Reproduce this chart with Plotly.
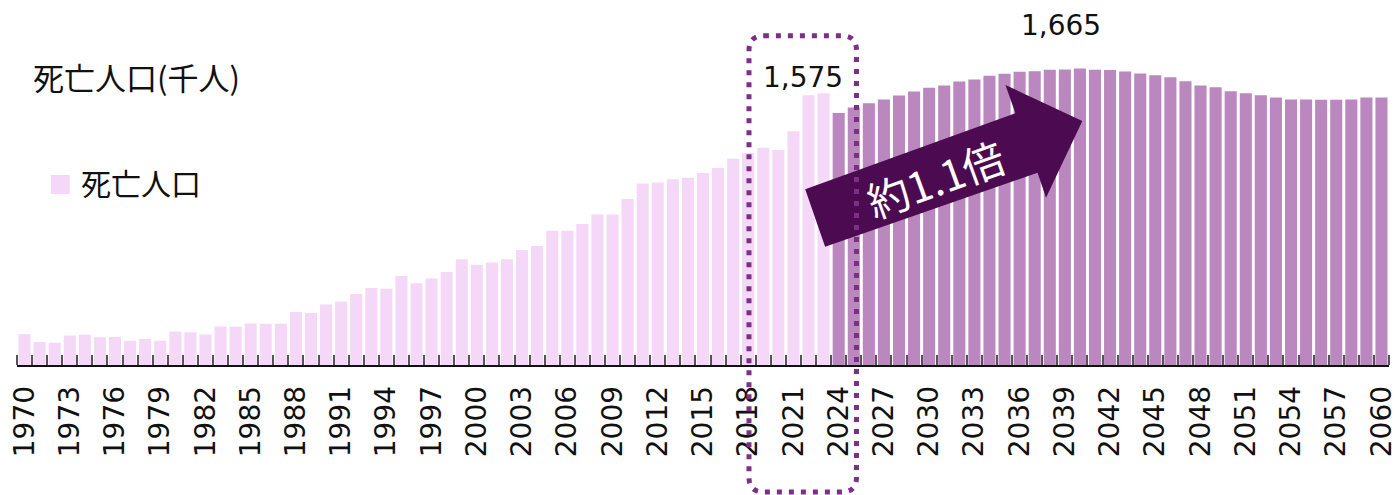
import plotly.graph_objects as go

# ---- data (thousand persons) ----
years_actual = list(range(1970, 2024))
deaths_actual = [713, 685, 683, 709, 711, 702, 703, 690, 696, 690,
                 723, 720, 712, 741, 740, 752, 751, 751, 793, 789,
                 820, 830, 857, 879, 876, 922, 896, 913, 936, 982,
                 962, 970, 982, 1015, 1029, 1084, 1084, 1108, 1142, 1142,
                 1197, 1253, 1256, 1268, 1273, 1290, 1308, 1341, 1362, 1381,
                 1373, 1440, 1569, 1576]
years_proj = list(range(2024, 2061))
deaths_proj = [1505, 1525, 1540, 1554, 1568, 1582, 1596, 1604, 1618, 1625,
               1639, 1646, 1653, 1655, 1660, 1661, 1665, 1660, 1659, 1654,
               1647, 1640, 1633, 1619, 1604, 1597, 1583, 1576, 1569, 1561,
               1554, 1554, 1553, 1553, 1554, 1561, 1561]
tick_years = list(range(1970, 2061, 3))
tick_labels = [str(y) for y in tick_years]
series_name = "死亡人口"
y_title = "死亡人口(千人)"
label_actual = "1,575"
label_peak = "1,665"
ratio_text = "約1.1倍"

PINK = "#F5D8F8"
PURPLE = "#BA87BE"
DARK = "#4C0A50"
DOT = "#7B3085"

W, H = 1400, 495
ML, MR, MT, MB = 17, 2, 10, 130
Y0, Y1 = 603, 1874

fig = go.Figure()
fig.add_trace(go.Bar(x=years_actual, y=deaths_actual, name=series_name,
                     marker=dict(color=PINK, line=dict(width=0)),
                     showlegend=False, hoverinfo="x+y"))
fig.add_trace(go.Bar(x=years_proj, y=deaths_proj, name=series_name + "(推計)",
                     marker=dict(color=PURPLE, line=dict(width=0)),
                     showlegend=False, hoverinfo="x+y"))

# arrow (data coordinates)
ax = [2021.78, 2035.72, 2035.06, 2040.16, 2037.75, 2037.19, 2023.10]
ay = [1232.1, 1504.2, 1605.5, 1476.6, 1202.0, 1291.5, 1026.6]
path = "M " + " L ".join(f"{x},{y}" for x, y in zip(ax, ay)) + " Z"
fig.add_shape(type="path", path=path, xref="x", yref="y",
              fillcolor=DARK, line=dict(width=0), layer="above")

# dotted rounded box (x in data, y in paper)
x0, x1 = 2018.05, 2025.18
y0, y1 = -0.358, 0.9276
rx, ry = 0.99, 0.042
box = (f"M {x0+rx},{y1} L {x1-rx},{y1} Q {x1},{y1} {x1},{y1-ry} "
       f"L {x1},{y0+ry} Q {x1},{y0} {x1-rx},{y0} L {x0+rx},{y0} "
       f"Q {x0},{y0} {x0},{y0+ry} L {x0},{y1-ry} Q {x0},{y1} {x0+rx},{y1} Z")
fig.add_shape(type="path", path=box, xref="x", yref="paper",
              line=dict(color=DOT, width=5, dash="5px,7px"),
              fillcolor="rgba(0,0,0,0)", layer="above")

# legend (manual)
fig.add_shape(type="rect", xref="paper", yref="paper",
              x0=0.0247, x1=0.0384, y0=0.4817, y1=0.5352,
              fillcolor=PINK, line=dict(width=0))
fig.add_annotation(x=0.0450, y=0.5155, xref="paper", yref="paper",
                   text=series_name, showarrow=False, xanchor="left", yanchor="middle",
                   font=dict(family="Noto Sans CJK JP", size=30, color="#111"))

# y title
fig.add_annotation(x=0.0105, y=0.814, xref="paper", yref="paper",
                   text=y_title, showarrow=False, xanchor="left", yanchor="middle",
                   font=dict(family="Noto Sans CJK JP", size=31, color="#111"))

# value labels
fig.add_annotation(x=2021.66, y=1634, text=label_actual, showarrow=False,
                   xanchor="center", yanchor="middle",
                   font=dict(family="DejaVu Sans", size=28, color="#111"))
fig.add_annotation(x=2038.72, y=1820, text=label_peak, showarrow=False,
                   xanchor="center", yanchor="middle",
                   font=dict(family="DejaVu Sans", size=28, color="#111"))

# ratio text on arrow
fig.add_annotation(x=2030.42, y=1274, text=ratio_text, showarrow=False,
                   textangle=-20, xanchor="center", yanchor="middle",
                   font=dict(family="Noto Sans CJK JP", size=42, color="white"))

fig.update_layout(
    width=W, height=H,
    margin=dict(l=ML, r=MR, t=MT, b=MB),
    plot_bgcolor="white", paper_bgcolor="white",
    bargap=0.2, barmode="overlay",
    showlegend=False,
    xaxis=dict(range=[1969.5, 2060.5], tickmode="array", tickvals=tick_years,
               ticktext=tick_labels, tickangle=-90, ticks="",
               showgrid=False, zeroline=False,
               showline=True, linecolor="#111", linewidth=1.5,
               ticklabelstandoff=8, ticklabeloverflow="allow",
               tickfont=dict(family="DejaVu Sans", size=28, color="#111"),
               minor=dict(tick0=1969.5, dtick=1, ticks="inside", ticklen=10,
                          tickwidth=1.5, tickcolor="#555", showgrid=False)),
    yaxis=dict(range=[Y0, Y1], visible=False, showgrid=False, zeroline=False),
)

fig.write_html("out.html", config={"displayModeBar": False},
               post_script="document.body.style.margin='0';document.body.style.overflow='hidden';")
